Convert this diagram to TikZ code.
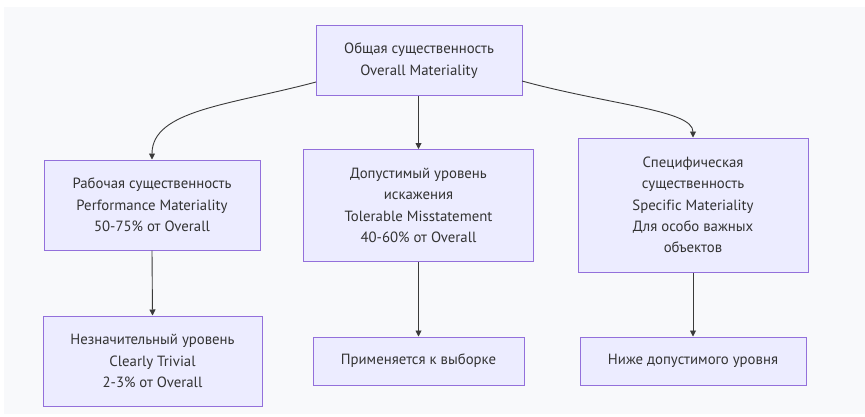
\documentclass[tikz,border=0pt]{standalone}
\usepackage{fontspec}
\setmainfont[Ligatures=NoCommon]{PT Sans}
\usetikzlibrary{arrows.meta}
\definecolor{nodefill}{HTML}{ECECFF}
\definecolor{nodeborder}{HTML}{9370DB}
\definecolor{edgecol}{HTML}{3A3A3A}
\definecolor{bgcol}{HTML}{F8F9FB}
\definecolor{txtcol}{HTML}{333333}
\tikzset{
  box/.style={draw=nodeborder, fill=nodefill, line width=1pt, align=center,
    text=txtcol, font=\fontsize{14.8}{21.3}\selectfont, inner sep=0pt},
  conn/.style={draw=edgecol, line width=0.9pt, -{Triangle[length=6pt,width=6pt]}}
}
\begin{document}
\begin{tikzpicture}[x=1pt,y=-1pt]
\useasboundingbox (0,0) rectangle (865,416);
\fill[bgcol] (4,7) rectangle (865,414);
\node[box, minimum width=206pt, minimum height=70pt] (top) at (419,60.5)
  {Общая существенность\\Overall Materiality};
\node[box, minimum width=216pt, minimum height=90pt] (pm) at (152,205)
  {Рабочая существенность\\Performance Materiality\\50-75\% от Overall};
\node[box, minimum width=230pt, minimum height=112pt] (tm) at (418.5,205.5)
  {Допустимый уровень\\искажения\\Tolerable Misstatement\\40-60\% от Overall};
\node[box, minimum width=230pt, minimum height=134pt] (sm) at (693,205)
  {Специфическая\\существенность\\Specific Materiality\\Для особо важных\\объектов};
\node[box, minimum width=219pt, minimum height=90pt] (ct) at (152.5,361)
  {Незначительный уровень\\Clearly Trivial\\2-3\% от Overall};
\node[box, minimum width=211pt, minimum height=48pt] (ap) at (418.5,361)
  {Применяется к выборке};
\node[box, minimum width=226pt, minimum height=48pt] (bl) at (693,361)
  {Ниже допустимого уровня};
\coordinate (tl) at (316,82);
\coordinate (tr) at (522,81);
\draw[conn] (tl) .. controls (230,105) and (152,110) .. (pm.north);
\draw[conn] (top.south -| tm.north) -- (tm.north);
\draw[conn] (tr) .. controls (610,105) and (693,110) .. (sm.north);
\draw[conn] (pm.south) -- (ct.north);
\draw[conn] (tm.south) -- (ap.north);
\draw[conn] (sm.south) -- (bl.north);
\end{tikzpicture}
\end{document}
